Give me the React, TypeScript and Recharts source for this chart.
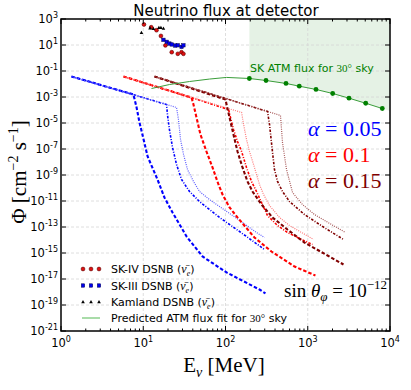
import React from 'react';
import { ComposedChart, Line, Scatter, Area, XAxis, YAxis, ReferenceLine, ReferenceArea } from 'recharts';

const W = 411;
const H = 390;
const MARGIN = { top: 19, right: 21, bottom: 0, left: 0 };
const Y_AXIS_W = 61;
const X_AXIS_H = 59;
const PLOT_TOP = MARGIN.top;
const PLOT_RIGHT = W - MARGIN.right;

const SANS = 'DejaVu Sans';
const SERIF = 'Liberation Serif';

// axis ticks
const xMajor = [1, 10, 100, 1000, 10000];
const xMinorSteps = [2, 3, 4, 5, 6, 7, 8, 9];
const yMajor = [1e3, 1e1, 1e-1, 1e-3, 1e-5, 1e-7, 1e-9, 1e-11, 1e-13, 1e-15, 1e-17, 1e-19, 1e-21];
const xTicks = [
  ...xMajor,
  ...xMajor.slice(0, -1).flatMap(d => xMinorSteps.map(m => d * m)),
].sort((a, b) => a - b);

// alpha = 0.05 (blue)
const blueDashed = [[1.34, 3.8e-2], [7.6, 1.56e-3], [8.3, 1.56e-4], [9.0, 1.1e-5], [10.1, 5.4e-7], [11.3, 2.65e-8], [14.9, 4.5e-10], [18.1, 1.86e-11], [22.7, 1.3e-12], [33.6, 1.86e-14], [52.6, 5.4e-16], [103, 3.2e-17], [259, 1.55e-18], [306, 7.7e-19]];
const blueDashDot = [[1.34, 3.8e-2], [19.2, 2.65e-4], [19.7, 4.5e-5], [20.8, 3.2e-6], [22.7, 1.3e-7], [25.4, 6.4e-9], [29.2, 4.5e-10], [36.5, 5.4e-11], [48.3, 9.1e-12], [84.6, 5.4e-13], [148, 4.5e-14], [298, 1.86e-15]];
const blueDotted = [[1.34, 3.8e-2], [25.4, 1.56e-4], [26.8, 1.86e-5], [28.4, 5.4e-7], [30.9, 3.8e-8], [34.5, 2.65e-9], [40.8, 3.2e-10], [48.3, 5.4e-11], [63.9, 1.3e-11], [122, 7.7e-13], [238, 3.8e-14], [298, 1.55e-14]];

// alpha = 0.1 (red)
const redDashed = [[5.75, 3.8e-2], [38.6, 9.1e-4], [40.8, 2.65e-4], [44.4, 2.65e-5], [49.6, 1.3e-6], [58.7, 6.4e-8], [69.5, 3.8e-9], [82.2, 1.86e-10], [92, 3.2e-11], [112, 3.2e-12], [140, 5.4e-13], [225, 1.55e-14], [362, 1.3e-15], [690, 9.1e-17], [1240, 1.86e-17]];
const redDashDot = [[5.75, 3.8e-2], [109, 1.1e-4], [115, 2.65e-5], [125, 3.2e-6], [140, 3.8e-7], [157, 6.4e-8], [180, 3.8e-9], [207, 3.2e-10], [238, 5.4e-11], [274, 7.7e-12], [324, 7.7e-13], [429, 1.3e-13], [567, 3.8e-14], [795, 1.3e-14], [1140, 4.5e-15]];
const redDotted = [[5.75, 3.8e-2], [157, 6.4e-5], [166, 7.7e-6], [180, 5.4e-7], [196, 6.4e-8], [225, 3.8e-9], [259, 1.86e-10], [290, 3.2e-11], [343, 4.5e-12], [454, 5.4e-13], [600, 1.3e-13], [840, 3.8e-14], [1175, 1.1e-14]];

// alpha = 0.15 (dark red)
const darkDashed = [[13.7, 3.8e-2], [100, 6.4e-4], [103, 2.65e-4], [112, 2.65e-5], [125, 1.3e-6], [140, 6.4e-8], [161, 3.8e-9], [185, 3.2e-10], [213, 5.4e-11], [274, 5.4e-12], [373, 5.4e-13], [567, 6.4e-14], [912, 6.4e-15], [1740, 6.4e-16], [2720, 1.3e-16]];
const darkDashDot = [[13.7, 3.8e-2], [324, 7.7e-5], [343, 7.7e-6], [362, 3.2e-7], [378, 2.6e-8], [394, 2.65e-9], [429, 3.2e-10], [493, 5.4e-11], [600, 9.1e-12], [912, 9.1e-13], [1585, 9.1e-14], [2720, 1.1e-14]];
const darkDotted = [[13.7, 3.8e-2], [466, 3.8e-5], [480, 3.2e-6], [493, 3.2e-7], [552, 2.65e-9], [653, 4.5e-11], [863, 5.4e-12], [1208, 9.1e-13], [1945, 1.55e-13], [2880, 3.8e-14]];

// atmospheric flux
const atmFit = [[12.6, 4.5e-3], [20.8, 9.1e-3], [36.5, 1.55e-2], [63.9, 2.4e-2], [103, 3.2e-2], [195, 2.65e-2], [311, 1.86e-2], [544, 1.1e-2], [789, 6.8e-3], [1260, 3.8e-3], [2010, 1.86e-3], [3175, 8.1e-4], [5070, 3.3e-4], [8060, 1.3e-4]];
const skAtmE = [195, 311, 544, 789, 1260, 2010, 3175, 5070, 8060];
const skAtmFlux = [2.65e-2, 1.86e-2, 1.1e-2, 6.8e-3, 3.8e-3, 1.86e-3, 8.1e-4, 3.3e-4, 1.3e-4];
const atmEdge = [10000, 8.5e-5];
const shadeTop = 1e3;

// DSNB limits
const skIV = [[10.2, 378], [12.5, 234], [14.5, 137], [16.4, 50], [18.6, 9.3], [22.2, 2.8], [26.3, 2.1], [29.2, 2.8], [30.8, 2.1]];
const skIII = [[17.6, 25], [19.3, 17.6], [20.8, 13], [22.2, 11], [24.5, 9.1], [26.3, 9.5], [29.2, 7.2], [30.8, 9.5]];
const kamland = [[9.5, 87], [12.1, 200], [13.3, 176], [15.5, 210], [16.4, 210], [17.6, 190]];

const pts = (arr: number[][]) => arr.map(([x, y]) => ({ x, y }));

const BLUE = '#0000ff';
const RED = '#ff0000';
const DARK = '#800000';

const curves = [
  { data: blueDashed, color: BLUE, w: 2.1, dash: '3.5 2' },
  { data: blueDashDot, color: BLUE, w: 1.6, dash: '2.5 1.5 1 1.5' },
  { data: blueDotted, color: '#5c5cff', w: 1.2, dash: '1 1.2' },
  { data: redDashed, color: RED, w: 2.1, dash: '3.5 2' },
  { data: redDashDot, color: RED, w: 1.6, dash: '2.5 1.5 1 1.5' },
  { data: redDotted, color: '#ff7a7a', w: 1.2, dash: '1 1.2' },
  { data: darkDashed, color: DARK, w: 2.1, dash: '3.5 2' },
  { data: darkDashDot, color: DARK, w: 1.6, dash: '2.5 1.5 1 1.5' },
  { data: darkDotted, color: '#a65757', w: 1.2, dash: '1 1.2' },
];

const skAtmPts = skAtmE.map((x, i) => ({ x, y: skAtmFlux[i] }));
const shadeData = [...skAtmE.map((x, i) => [x, skAtmFlux[i]]), atmEdge].map(([x, y]) => ({ x, band: [y, shadeTop] }));

const expOf = (v: number) => String(Math.round(Math.log10(v)));

const XTick = (props: any) => {
  const { x, y, payload } = props;
  const major = xMajor.includes(payload.value);
  const len = major ? 5 : 2.5;
  return (
    <g>
      <line x1={x} x2={x} y1={y} y2={y - len} stroke="#000" strokeWidth={1} />
      <line x1={x} x2={x} y1={PLOT_TOP} y2={PLOT_TOP + len} stroke="#000" strokeWidth={1} />
      {major && (
        <text x={x} y={y + 16} textAnchor="middle" fontFamily={SANS} fontSize={11.5} fill="#000">
          10<tspan dy={-5} fontSize={8}>{expOf(payload.value)}</tspan>
        </text>
      )}
    </g>
  );
};

const YTick = (props: any) => {
  const { x, y, payload } = props;
  return (
    <g>
      <line x1={x} x2={x + 5} y1={y} y2={y} stroke="#000" strokeWidth={1} />
      <line x1={PLOT_RIGHT} x2={PLOT_RIGHT - 5} y1={y} y2={y} stroke="#000" strokeWidth={1} />
      <text x={x - 3} y={y + 4} textAnchor="end" fontFamily={SANS} fontSize={11.5} fill="#000">
        10<tspan dy={-5} fontSize={8}>{expOf(payload.value)}</tspan>
      </text>
    </g>
  );
};

const RedDot = (p: any) => <circle cx={p.cx} cy={p.cy} r={1.9} fill="#e01010" stroke="#5a0000" strokeWidth={0.6} />;
const BlueSq = (p: any) => <rect x={p.cx - 1.7} y={p.cy - 1.7} width={3.4} height={3.4} fill="#0000ee" stroke="#00004a" strokeWidth={0.5} />;
const BlackTri = (p: any) => (
  <polygon points={`${p.cx},${p.cy - 2} ${p.cx - 1.8},${p.cy + 1.3} ${p.cx + 1.8},${p.cy + 1.3}`} fill="#000" />
);
const GreenDot = (p: any) => <circle cx={p.cx} cy={p.cy} r={2.4} fill="#008000" />;

const nuBar = '\u03BD\u0304';

const LegendRow = ({ y, marker, label }: { y: number; marker: React.ReactNode; label: React.ReactNode }) => (
  <g>
    {marker}
    <text x={111} y={y + 4} fontFamily={SANS} fontSize={11} fill="#000">{label}</text>
  </g>
);

const nuLabel = (name: string) => (
  <>
    {name} (<tspan fontFamily={SERIF} fontStyle="italic" fontSize={12}>{nuBar}</tspan>
    <tspan fontFamily={SERIF} fontStyle="italic" fontSize={8} dy={3}>e</tspan>
    <tspan dy={-3}>)</tspan>
  </>
);

const Overlay = () => {
  const mx = [83, 91, 99];
  return (
    <svg width={W} height={H} style={{ position: 'absolute', left: 0, top: 0, pointerEvents: 'none' }}>
      <text x={226} y={16} textAnchor="middle" fontFamily={SANS} fontSize={15} fill="#000">Neutrino flux at detector</text>
      <text transform="translate(26,172) rotate(-90)" textAnchor="middle" fontFamily={SERIF} fontSize={21} fill="#000">
        Φ [cm<tspan dy={-8} fontSize={14}>−2</tspan><tspan dy={8}> s</tspan><tspan dy={-8} fontSize={14}>−1</tspan><tspan dy={8}>]</tspan>
      </text>
      <text x={224} y={372} textAnchor="middle" fontFamily={SERIF} fontSize={21} fill="#000">
        E<tspan dy={5} fontSize={14} fontStyle="italic">ν</tspan><tspan dy={-5}> [MeV]</tspan>
      </text>
      <text x={250} y={72} fontFamily={SANS} fontSize={11} fill="#008000">
        SK ATM flux for <tspan fontFamily={SERIF}>30°</tspan> sky
      </text>
      <text x={308} y={136} fontFamily={SERIF} fontSize={22} fill={BLUE}>
        <tspan fontStyle="italic">α</tspan> = 0.05
      </text>
      <text x={308} y={162} fontFamily={SERIF} fontSize={22} fill={RED}>
        <tspan fontStyle="italic">α</tspan> = 0.1
      </text>
      <text x={308} y={188} fontFamily={SERIF} fontSize={22} fill={DARK}>
        <tspan fontStyle="italic">α</tspan> = 0.15
      </text>
      <text x={284} y={297} fontFamily={SERIF} fontSize={19} fill="#000">
        sin <tspan fontStyle="italic">θ</tspan><tspan fontStyle="italic" fontSize={13} dy={4}>φ</tspan>
        <tspan dy={-4}> = 10</tspan><tspan dy={-8} fontSize={13}>−12</tspan>
      </text>
      <LegendRow y={269} label={nuLabel('SK-IV DSNB')}
        marker={mx.map(x => <circle key={x} cx={x} cy={269} r={1.9} fill="#e01010" stroke="#5a0000" strokeWidth={0.6} />)} />
      <LegendRow y={285.5} label={nuLabel('SK-III DSNB')}
        marker={mx.map(x => <rect key={x} x={x - 1.7} y={283.8} width={3.4} height={3.4} fill="#0000ee" stroke="#00004a" strokeWidth={0.5} />)} />
      <LegendRow y={302} label={nuLabel('Kamland DSNB')}
        marker={mx.map(x => <polygon key={x} points={`${x},${300} ${x - 1.8},${303.3} ${x + 1.8},${303.3}`} fill="#000" />)} />
      <LegendRow y={318} label={<>Predicted ATM flux fit for <tspan fontFamily={SERIF}>30°</tspan> sky</>}
        marker={<line x1={82} x2={100} y1={318} y2={318} stroke="#8cd08c" strokeWidth={1.5} />} />
    </svg>
  );
};

export default function App() {
  return (
    <div style={{ position: 'absolute', left: 0, top: 0, width: W, height: H, background: '#fff' }}>
      <ComposedChart width={W} height={H} margin={MARGIN}>
        <XAxis dataKey="x" type="number" scale="log" domain={[1, 10000]} allowDataOverflow ticks={xTicks} interval={0}
          height={X_AXIS_H} axisLine={false} tickLine={false} tickSize={0} tickMargin={0} tick={<XTick />} />
        <YAxis dataKey="y" type="number" scale="log" domain={[1e-21, 1e3]} allowDataOverflow ticks={yMajor} interval={0}
          width={Y_AXIS_W} axisLine={false} tickLine={false} tickSize={0} tickMargin={0} tick={<YTick />} />
        {xMajor.slice(1, -1).map(v => (
          <ReferenceLine key={`gx${v}`} x={v} stroke="#d6d6d6" strokeDasharray="3 2" strokeWidth={0.8} />
        ))}
        {yMajor.slice(1, -1).map(v => (
          <ReferenceLine key={`gy${v}`} y={v} stroke="#d6d6d6" strokeDasharray="3 2" strokeWidth={0.8} />
        ))}
        <Area data={shadeData} dataKey="band" type="linear" stroke="none" fill="#008000" fillOpacity={0.1} isAnimationActive={false} />
        {curves.map((c, i) => (
          <Line key={i} data={pts(c.data)} dataKey="y" type="linear" stroke={c.color} strokeWidth={c.w}
            strokeDasharray={c.dash} dot={false} isAnimationActive={false} />
        ))}
        <Line data={pts(atmFit)} dataKey="y" type="linear" stroke="#3a9d3a" strokeWidth={1} dot={false} isAnimationActive={false} />
        <Scatter data={skAtmPts} dataKey="y" shape={GreenDot} isAnimationActive={false} />
        <Scatter data={pts(skIV)} dataKey="y" shape={RedDot} isAnimationActive={false} />
        <Scatter data={pts(skIII)} dataKey="y" shape={BlueSq} isAnimationActive={false} />
        <Scatter data={pts(kamland)} dataKey="y" shape={BlackTri} isAnimationActive={false} />
        <ReferenceArea x1={1} x2={10000} y1={1e-21} y2={1e3} fill="none" stroke="#000" strokeWidth={1.5} ifOverflow="visible" />
      </ComposedChart>
      <Overlay />
    </div>
  );
}
